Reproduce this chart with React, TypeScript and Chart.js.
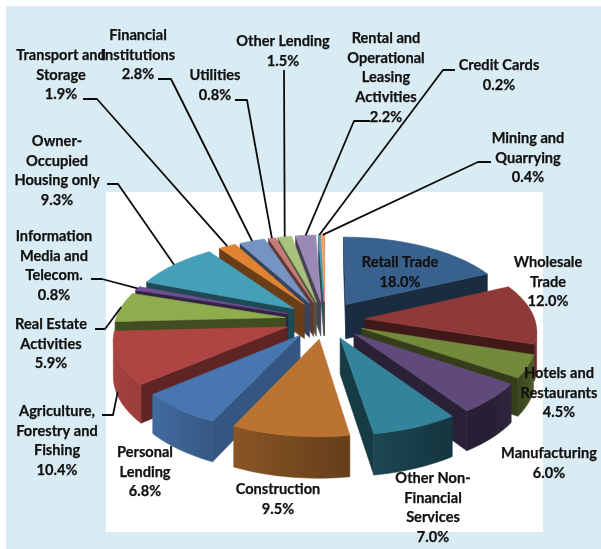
import React, { useEffect, useRef } from "react";
import { Chart, registerables } from "chart.js";

Chart.register(...registerables);

const categories = [
  "Retail Trade", "Wholesale Trade", "Hotels and Restaurants", "Manufacturing",
  "Other Non-Financial Services", "Construction", "Personal Lending",
  "Agriculture, Forestry and Fishing", "Real Estate Activities",
  "Information Media and Telecom.", "Owner-Occupied Housing only", "Transport and Storage",
  "Financial Institutions", "Utilities", "Other Lending",
  "Rental and Operational Leasing Activities", "Credit Cards", "Mining and Quarrying",
];
const shares = [18.0, 12.0, 4.5, 6.0, 7.0, 9.5, 6.8, 10.4, 5.9, 0.8, 9.3, 1.9, 2.8, 0.8, 1.5, 2.2, 0.2, 0.4];
const sliceColors = [
  "#38618e", "#8f3a38", "#738a3c", "#604a7b", "#33839a", "#ba7331", "#4876b0", "#ae4543", "#8fad4c",
  "#6f4e93", "#44a0b9", "#df8331", "#7594c4", "#c97a78", "#a8c17c", "#9a8ab5", "#50a6bc", "#f4a46d",
];
const labelLines = [
  ["Retail Trade"], ["Wholesale", "Trade"], ["Hotels and", "Restaurants"], ["Manufacturing"],
  ["Other Non-", "Financial", "Services"], ["Construction"], ["Personal", "Lending"],
  ["Agriculture,", "Forestry and", "Fishing"], ["Real Estate", "Activities"],
  ["Information", "Media and", "Telecom."], ["Owner-", "Occupied", "Housing only"], ["Transport and", "Storage"],
  ["Financial", "Institutions"], ["Utilities"], ["Other Lending"],
  ["Rental and", "Operational", "Leasing", "Activities"], ["Credit Cards"], ["Mining and", "Quarrying"],
];

// Layout only: centre x and first line middle y of each label.
const labelPos: [number, number][] = [
  [400, 262], [548, 262], [559, 373], [549, 453], [433, 478], [278, 489], [145, 452], [57, 411], [51, 324],
  [54, 236], [57, 141], [61, 55], [138, 35], [215, 75], [283, 41], [386, 38], [499, 65], [528, 138],
];
// Leader start, elbow and the depth at which it meets the slice rim.
const leaders: ([number, number][] | null)[] = [
  null, null, null, null, null, null, null,
  [[102, 415], [113, 415]], [[95, 329], [105, 329]], [[91, 279], [102, 279]], [[107, 184], [118, 184]],
  [[83, 99], [97, 99]], [[158, 79], [171, 79]], [[235, 100], [247, 100]], [[284, 70], [284, 70]],
  [[370, 121], [354, 121]], [[455, 70], [443, 70]], [[491, 162], [478, 162]],
];
const leaderOnWall = [7];

const PERSP = 0.00075, TILT = 0.469, DEPTH = 35;
const LINE_H = 19.8;

function shadeColor(hex: string, f: number) {
  const n = parseInt(hex.slice(1), 16);
  const c = [(n >> 16) & 255, (n >> 8) & 255, n & 255].map((v) => Math.round(Math.min(255, v * f)));
  return `rgb(${c[0]},${c[1]},${c[2]})`;
}
const wallStops: [number, number][] = [[0, 0.9], [90, 1.0], [115, 0.6], [135, 0.42], [150, 0.42], [172, 0.55], [190, 0.65], [225, 0.88], [250, 0.95], [360, 0.9]];
function interp(t: number, stops: [number, number][]) {
  for (let i = 1; i < stops.length; i++) {
    if (t <= stops[i][0]) {
      const [a, fa] = stops[i - 1], [b, fb] = stops[i];
      return fa + ((fb - fa) * (t - a)) / (b - a);
    }
  }
  return stops[stops.length - 1][1];
}
const startCutStops: [number, number][] = [[0, 0.45], [90, 0.45], [115, 0.73], [140, 0.54], [177, 0.45], [360, 0.5]];

const pie3d = {
  id: "pie3d",
  beforeDraw(chart: any) {
    const { ctx, width, height } = chart;
    ctx.save();
    ctx.fillStyle = "#ffffff";
    ctx.fillRect(0, 0, width, height);
    ctx.fillStyle = "#d9ecf3";
    ctx.fillRect(6, 6, width - 6, height - 6);
    ctx.fillStyle = "#ffffff";
    ctx.fillRect(106, 192, 437, 340);
    ctx.restore();
  },
  beforeDatasetsDraw(chart: any) {
    const { ctx } = chart;
    const arcs = chart.getDatasetMeta(0).data;
    const project = (arc: any, X: number, Y: number, z: number) => {
      const w = 1 / (1 - PERSP * Y);
      return [arc.x + X * w, arc.y + TILT * Y * w + z * w] as [number, number];
    };
    const rimPoint = (arc: any, a: number, r: number) => {
      const mid = (arc.startAngle + arc.endAngle) / 2;
      const off = arc.options.offset;
      return [Math.cos(a) * r + Math.cos(mid) * off, Math.sin(a) * r + Math.sin(mid) * off];
    };
    const poly = (pts: [number, number][], color: any) => {
      ctx.beginPath();
      pts.forEach((p, i) => (i ? ctx.lineTo(p[0], p[1]) : ctx.moveTo(p[0], p[1])));
      ctx.closePath();
      ctx.fillStyle = color;
      ctx.strokeStyle = color;
      ctx.lineWidth = 0.6;
      ctx.fill();
      ctx.stroke();
    };
    const area = (p: [number, number][]) => {
      let s = 0;
      p.forEach((a, i) => {
        const b = p[(i + 1) % p.length];
        s += a[0] * b[1] - b[0] * a[1];
      });
      return s / 2;
    };
    const order = arcs.map((_: any, i: number) => i).sort((i: number, j: number) => {
      const mi = (arcs[i].startAngle + arcs[i].endAngle) / 2, mj = (arcs[j].startAngle + arcs[j].endAngle) / 2;
      return Math.sin(mi) - Math.sin(mj);
    });
    order.forEach((i: number) => {
      const arc = arcs[i];
      const base = sliceColors[i];
      const r = arc.outerRadius;
      const [ax, ay] = rimPoint(arc, 0, 0);
      const apexT = project(arc, ax, ay, 0), apexB = project(arc, ax, ay, DEPTH);
      const steps = Math.max(4, Math.ceil(((arc.endAngle - arc.startAngle) * 180) / Math.PI / 2));
      const rimT: [number, number][] = [], rimB: [number, number][] = [];
      const angs: number[] = [];
      for (let s = 0; s <= steps; s++) {
        const a = arc.startAngle + ((arc.endAngle - arc.startAngle) * s) / steps;
        const [X, Y] = rimPoint(arc, a, r);
        rimT.push(project(arc, X, Y, 0));
        rimB.push(project(arc, X, Y, DEPTH));
        angs.push(a);
      }
      const startQuad: [number, number][] = [apexT, rimT[0], rimB[0], apexB];
      const endQuad: [number, number][] = [apexT, apexB, rimB[steps], rimT[steps]];
      const startNormal = ((arc.startAngle + Math.PI / 2) * 180) / Math.PI - 90;
      if (area(startQuad) < 0) poly(startQuad, shadeColor(base, interp(((startNormal % 360) + 360) % 360, startCutStops)));
      if (area(endQuad) < 0) poly(endQuad, shadeColor(base, 0.45));

      // The visible stretch of the outer wall is one polygon with a gradient along it.
      const seen: number[] = [];
      for (let s = 0; s < steps; s++) {
        const q: [number, number][] = [rimT[s], rimT[s + 1], rimB[s + 1], rimB[s]];
        if (area(q) < 0) seen.push(s);
      }
      if (seen.length) {
        const first = seen[0], last = seen[seen.length - 1] + 1;
        const x0 = rimT[first][0], x1 = rimT[last][0];
        const wallFill = Math.abs(x1 - x0) > 0.5 ? ctx.createLinearGradient(x0, 0, x1, 0) : null;
        const deg = (s: number) => (((angs[s] + Math.PI / 2) * 180) / Math.PI + 360) % 360;
        if (wallFill) {
          for (let s = first; s <= last; s++) {
            wallFill.addColorStop(
              Math.min(1, Math.max(0, (rimT[s][0] - x0) / (x1 - x0))),
              shadeColor(base, interp(deg(s), wallStops)),
            );
          }
        }
        const pts: [number, number][] = [];
        for (let s = first; s <= last; s++) pts.push(rimT[s]);
        for (let s = last; s >= first; s--) pts.push(rimB[s]);
        poly(pts, wallFill ?? shadeColor(base, interp(deg(first), wallStops)));
      }
      poly([apexT, ...rimT], base);
    });
    return false;
  },
  afterDraw(chart: any) {
    const { ctx } = chart;
    const arcs = chart.getDatasetMeta(0).data;
    ctx.save();
    ctx.strokeStyle = "#0d0d0d";
    ctx.lineWidth = 1.8;
    ctx.lineJoin = "round";
    leaders.forEach((pts, i) => {
      if (!pts) return;
      const arc = arcs[i];
      const mid = (arc.startAngle + arc.endAngle) / 2;
      const R = arc.outerRadius + arc.options.offset;
      const X = Math.cos(mid) * R, Y = Math.sin(mid) * R;
      const w = 1 / (1 - PERSP * Y);
      const z = leaderOnWall.includes(i) ? DEPTH * 0.9 : 0;
      ctx.beginPath();
      ctx.moveTo(pts[0][0], pts[0][1]);
      ctx.lineTo(pts[1][0], pts[1][1]);
      ctx.lineTo(arc.x + X * w, arc.y + TILT * Y * w + z * w);
      ctx.stroke();
    });
    ctx.fillStyle = "#111111";
    ctx.strokeStyle = "#111111";
    ctx.lineWidth = 0.25;
    ctx.font = "bold 14.6px Lato";
    ctx.textAlign = "center";
    ctx.textBaseline = "middle";
    labelLines.forEach((lines, i) => {
      const [x, y] = labelPos[i];
      [...lines, `${shares[i].toFixed(1)}%`].forEach((t, k) => {
        ctx.fillText(t, x, y + k * LINE_H);
        ctx.strokeText(t, x, y + k * LINE_H);
      });
    });
    ctx.restore();
  },
};

export default function App() {
  const ref = useRef<HTMLCanvasElement>(null);
  useEffect(() => {
    const chart = new Chart(ref.current!, {
      type: "pie",
      data: {
        labels: categories,
        datasets: [{ data: shares, backgroundColor: sliceColors, borderWidth: 0, offset: 40 }],
      },
      options: {
        responsive: false,
        animation: false,
        radius: 170,
        layout: { padding: { left: 49, top: 91 } },
        plugins: { legend: { display: false }, tooltip: { enabled: false } },
      } as any,
      plugins: [pie3d as any],
    });
    return () => chart.destroy();
  }, []);
  return (
    <canvas
      ref={ref}
      width={601}
      height={549}
      style={{ position: "absolute", left: 0, top: 0, display: "block", width: 601, height: 549 }}
    />
  );
}
